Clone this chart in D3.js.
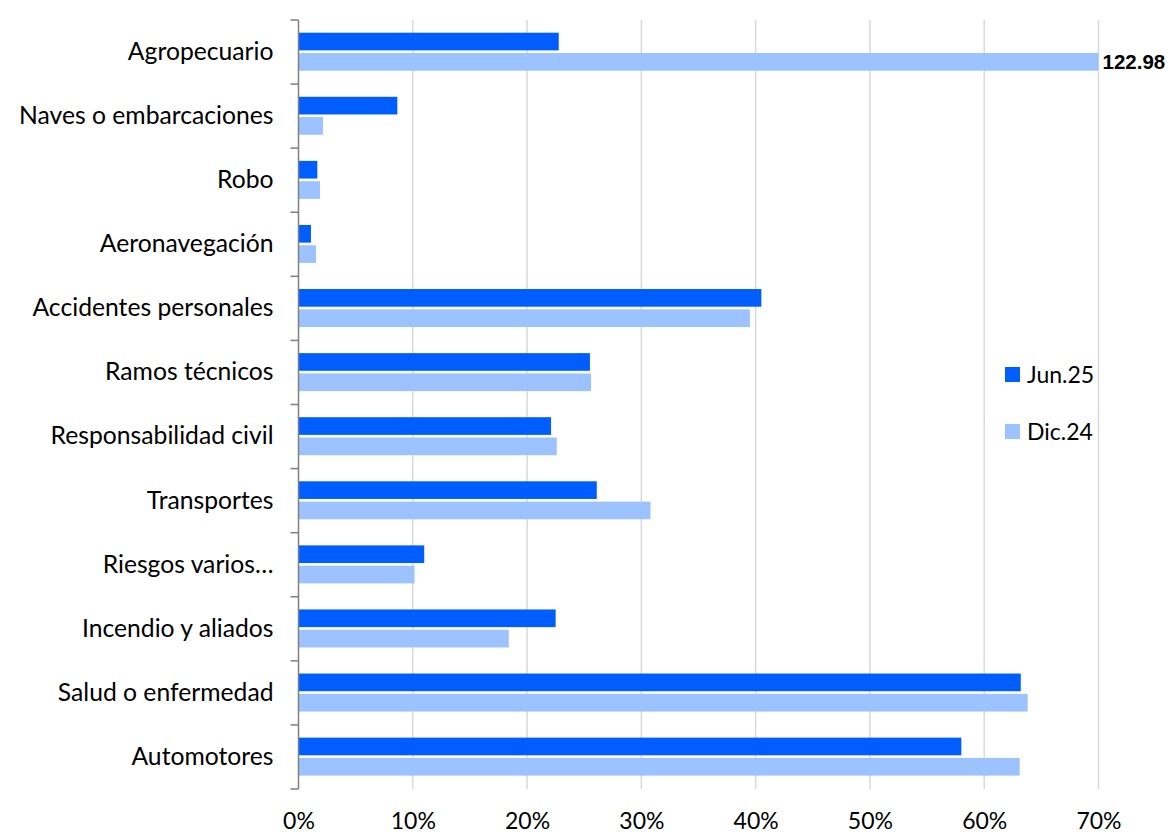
<!DOCTYPE html>
<html>
<head>
<meta charset="utf-8">
<script src="https://cdn.jsdelivr.net/npm/d3@7"></script>
<style>
  html, body { margin: 0; padding: 0; background: #ffffff; }
  svg { display: block; }
  text { font-family: "Lato", "Noto Sans", sans-serif; fill: #000; }
</style>
</head>
<body>
<svg id="chart" width="1171" height="835"></svg>
<script>
// Ramos de seguro (de arriba hacia abajo)
const categories = [
  "Agropecuario",
  "Naves o embarcaciones",
  "Robo",
  "Aeronavegación",
  "Accidentes personales",
  "Ramos técnicos",
  "Responsabilidad civil",
  "Transportes",
  "Riesgos varios…",
  "Incendio y aliados",
  "Salud o enfermedad",
  "Automotores"
];
const seriesNames = ["Jun.25", "Dic.24"];
// Porcentajes por ramo
const jun25 = [22.77, 8.65, 1.65, 1.09, 40.5, 25.5, 22.1, 26.1, 11.0, 22.5, 63.2, 58.0];
const dic24 = [122.98, 2.14, 1.88, 1.53, 39.5, 25.6, 22.6, 30.8, 10.15, 18.4, 63.8, 63.1];
const xTicks = [0, 10, 20, 30, 40, 50, 60, 70];
const xMax = 70;

const colors = { "Jun.25": "#005EFF", "Dic.24": "#9CC2FF" };

const svg = d3.select("#chart");
const plotLeft = 298.5, plotRight = 1098.5, plotTop = 20, plotBottom = 789;

const x = d3.scaleLinear().domain([0, xMax]).range([plotLeft, plotRight]);
const y = d3.scaleBand().domain(categories).range([plotTop, plotBottom]).paddingInner(0).paddingOuter(0);
const inner = d3.scaleBand().domain(seriesNames).range([12.7, 50.7]).paddingInner(0.13);

// Líneas de cuadrícula verticales
svg.append("g")
  .selectAll("line")
  .data(xTicks.filter(t => t > 0))
  .join("line")
  .attr("x1", d => x(d)).attr("x2", d => x(d))
  .attr("y1", plotTop).attr("y2", plotBottom)
  .attr("stroke", "#d9d9d9").attr("stroke-width", 1.5);

// Recorte al área del gráfico
svg.append("defs").append("clipPath").attr("id", "plotClip")
  .append("rect").attr("x", plotLeft).attr("y", plotTop - 5)
  .attr("width", plotRight - plotLeft).attr("height", plotBottom - plotTop + 10);

const rows = categories.map((c, i) => ({
  cat: c,
  vals: [{ s: "Jun.25", v: jun25[i] }, { s: "Dic.24", v: dic24[i] }]
}));

const bars = svg.append("g").attr("clip-path", "url(#plotClip)");
bars.selectAll("g")
  .data(rows)
  .join("g")
  .attr("transform", d => `translate(0,${y(d.cat)})`)
  .selectAll("rect")
  .data(d => d.vals)
  .join("rect")
  .attr("x", x(0))
  .attr("y", d => inner(d.s))
  .attr("width", d => x(d.v) - x(0))
  .attr("height", inner.bandwidth())
  .attr("fill", d => colors[d.s]);

// Etiqueta del valor que excede el eje
rows.forEach(r => {
  r.vals.forEach(d => {
    if (d.v > xMax) {
      svg.append("text")
        .attr("x", x(xMax) + 4)
        .attr("y", y(r.cat) + inner(d.s) + inner.bandwidth() / 2)
        .attr("dy", "0.36em")
        .style("font-family", "'Liberation Sans', Arial, sans-serif")
        .style("font-weight", "bold")
        .style("font-size", "20.5px")
        .text(d3.format(".2f")(d.v));
    }
  });
});

// Eje vertical con categorías
const yAxis = d3.axisLeft(y).tickSize(0).tickPadding(25);
const yg = svg.append("g").attr("transform", `translate(${plotLeft},0)`).call(yAxis);
yg.select(".domain").remove();
yg.selectAll("text").style("font-size", "24.7px").style("font-family", "Lato, sans-serif");

svg.append("line")
  .attr("x1", plotLeft).attr("x2", plotLeft).attr("y1", plotTop).attr("y2", plotBottom)
  .attr("stroke", "#7f7f7f").attr("stroke-width", 1.5);
// Marcas entre categorías
const boundaries = categories.map(c => y(c)).concat([plotBottom]);
svg.append("g").selectAll("line")
  .data(boundaries)
  .join("line")
  .attr("x1", plotLeft - 8).attr("x2", plotLeft)
  .attr("y1", d => d).attr("y2", d => d)
  .attr("stroke", "#7f7f7f").attr("stroke-width", 1.5);

// Etiquetas del eje horizontal
const xAxis = d3.axisBottom(x).tickValues(xTicks).tickSize(0).tickPadding(0)
  .tickFormat(d => d + "%");
const xg = svg.append("g").attr("transform", `translate(0,${plotBottom + 24})`).call(xAxis);
xg.select(".domain").remove();
xg.selectAll("text").style("font-size", "23px").style("font-family", "Lato, sans-serif");

// Leyenda
const legend = svg.append("g").attr("transform", "translate(1005,367)");
seriesNames.forEach((s, i) => {
  const g = legend.append("g").attr("transform", `translate(0,${i * 57})`);
  g.append("rect").attr("width", 15).attr("height", 15).attr("fill", colors[s]);
  g.append("text").attr("x", 22).attr("y", 7.5).attr("dy", "0.36em")
    .style("font-size", "23px").text(s);
});
</script>
</body>
</html>
